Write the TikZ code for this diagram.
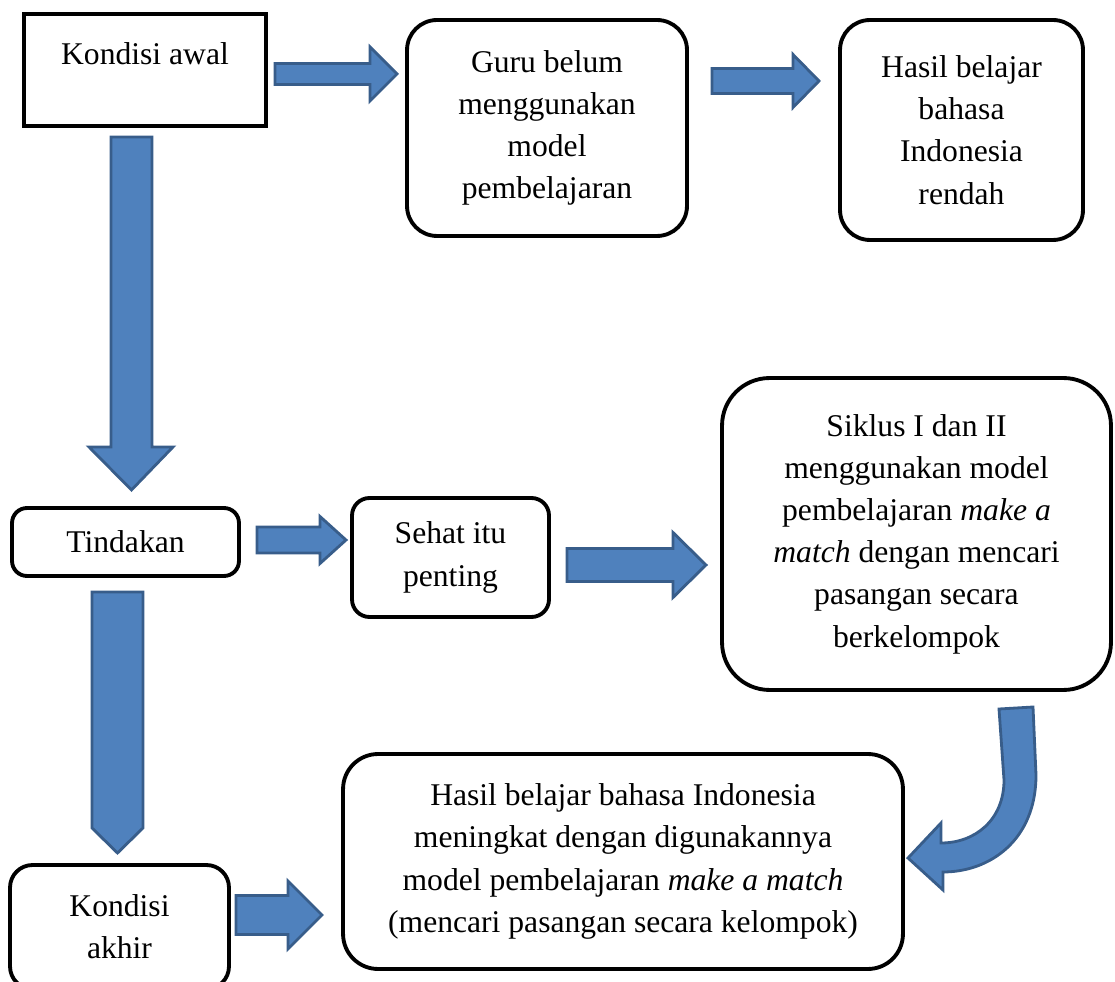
\documentclass[tikz,border=0pt]{standalone}
\usepackage{fontspec}
\setmainfont{Liberation Serif}
\usepackage{tikz}

\definecolor{panahisi}{RGB}{79,129,189}
\definecolor{panahtepi}{RGB}{56,93,138}

\begin{document}
\begin{tikzpicture}[x=0.02cm,y=-0.02cm,
        kotak/.style={draw,line width=2.2pt,align=center,inner sep=0pt,font=\fontsize{18}{24}\selectfont},
        teks/.style={inner sep=0pt,font=\fontsize{18}{24}\selectfont},
        blok/.style={fill=panahisi,draw=panahtepi,line width=1.6pt,line join=miter}]
        \useasboundingbox (0,0) rectangle (1115,982);
        \node[kotak,minimum width=4.84cm,minimum height=2.24cm] (awal) at (145,70) {};
        \node[teks,anchor=base] (awalteks) at (145,65) {Kondisi awal};
        \node[kotak,rounded corners=0.6cm,minimum width=5.6cm,minimum height=4.32cm] (guru) at (547,128)
            {Guru belum\\menggunakan\\model\\pembelajaran};
        \node[kotak,rounded corners=0.6cm,minimum width=4.86cm,minimum height=4.4cm] (rendah) at (961.5,130)
            {Hasil belajar\\bahasa\\Indonesia\\rendah};
        \node[kotak,rounded corners=0.3cm,minimum width=4.54cm,minimum height=1.36cm] (tindakan) at (125.5,542)
            {Tindakan};
        \node[kotak,rounded corners=0.35cm,minimum width=3.94cm,minimum height=2.38cm] (sehat) at (450.5,557.5)
            {Sehat itu\\penting};
        \node[kotak,rounded corners=0.95cm,minimum width=7.78cm,minimum height=6.24cm] (siklus) at (916.5,534)
            {Siklus I dan II\\menggunakan model\\pembelajaran \textit{make a}\\\textit{match} dengan mencari\\pasangan secara\\berkelompok};
        \node[kotak,rounded corners=0.7cm,minimum width=11.2cm,minimum height=4.3cm] (meningkat) at (623,861.5)
            {Hasil belajar bahasa Indonesia\\meningkat dengan digunakannya\\model pembelajaran \textit{make a match}\\(mencari pasangan secara kelompok)};
        \node[kotak,rounded corners=0.45cm,minimum width=4.38cm,minimum height=2.48cm] (akhir) at (119.5,927)
            {Kondisi\\akhir};
        \foreach \xa/\xb/\xc/\yc/\s/\h in {275/370/397/74/10.5/27,712/793/819/81/12.5/26.5,257/320/346/540/13/23.5,567/673/706/565/16.5/32.5,236/288/322/915/19.5/34}
        {
            \draw[blok] (\xa,\yc-\s)--(\xb,\yc-\s)--(\xb,\yc-\h)--(\xc,\yc)--(\xb,\yc+\h)--(\xb,\yc+\s)--(\xa,\yc+\s)--cycle;
        }
        \draw[blok] (111,137)--(152,137)--(152,447)--(173,447)--(131.5,490)--(89,447)--(111,447)--cycle;
        \draw[blok] (92,592)--(143,592)--(143,828)--(117.5,853)--(92,828)--cycle;
        \draw[blok] (999,709)--(1033,707)--(1036,775) .. controls (1036,840) and (990,872) .. (943,872)
            --(943,890)--(908,858)--(941,823)--(941,843) .. controls (975,843) and (1004,820) .. (1004,780)--cycle;
    \end{tikzpicture}
\end{document}
